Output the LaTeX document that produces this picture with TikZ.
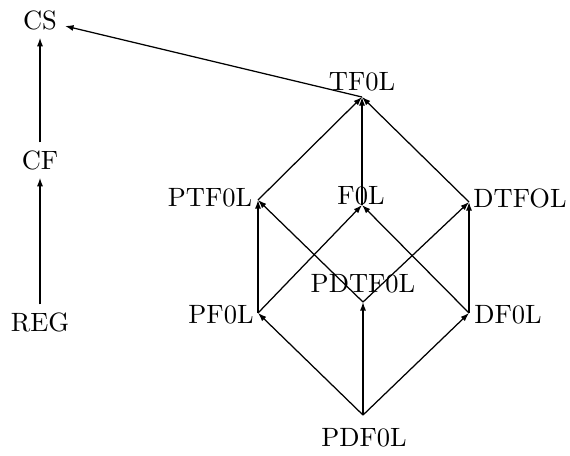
\documentclass[tikz,border=0pt]{standalone}
\usepackage{tikz}
\usetikzlibrary{arrows.meta, positioning}

\begin{document}
\begin{tikzpicture}[
    x=0.4pt, y=-0.4pt, line width=0.5pt,
    font=\fontsize{10.6}{12}\selectfont,
    lbl/.style={inner sep=0pt},
    cls/.style={inner sep=3pt},
    arr/.style={-{Latex[length=3.4pt,width=2.4pt]}}
]
    \useasboundingbox (0,0) rectangle (570,455);
    % lattice points
    \coordinate (tf) at (362,97);
    \coordinate (ptf) at (258,200);
    \coordinate (f) at (362,205);
    \coordinate (dtf) at (469,202);
    \coordinate (pf) at (258,313);
    \coordinate (pdtf) at (363,302);
    \coordinate (df) at (469,313);
    \coordinate (pdf) at (363,415);

    % labels
    \node[lbl] (tfl) at (362,82) {TF0L};
    \node[lbl] (ptfl) at (210,198) {PTF0L};
    \node[lbl] (fl) at (361,196) {F0L};
    \node[lbl] (dtfl) at (520,198) {DTFOL};
    \node[lbl] (pfl) at (221,315) {PF0L};
    \node[lbl] (pdtfl) at (363,284) {PDTF0L};
    \node[lbl] (dfl) at (508,315) {DF0L};
    \node[lbl] (pdfl) at (364,438) {PDF0L};

    \node[cls] (cs) at (40,20) {CS};
    \node[cls] (cf) at (40,160) {CF};
    \node[cls] (reg) at (40,322) {REG};

    % edges
    \draw[arr] (reg) -- (cf);
    \draw[arr] (cf) -- (cs);
    \draw[arr] (tf) -- (cs);
    \draw[arr] (ptf) -- (tf);
    \draw[arr] (f) -- (tf);
    \draw[arr] (dtf) -- (tf);
    \draw[arr] (pf) -- (ptf);
    \draw[arr] (pf) -- (f);
    \draw[arr] (df) -- (dtf);
    \draw[arr] (df) -- (f);
    \draw[arr] (pdtf) -- (ptf);
    \draw[arr] (pdtf) -- (dtf);
    \draw[arr] (pdf) -- (pf);
    \draw[arr] (pdf) -- (pdtf);
    \draw[arr] (pdf) -- (df);
\end{tikzpicture}
\end{document}
